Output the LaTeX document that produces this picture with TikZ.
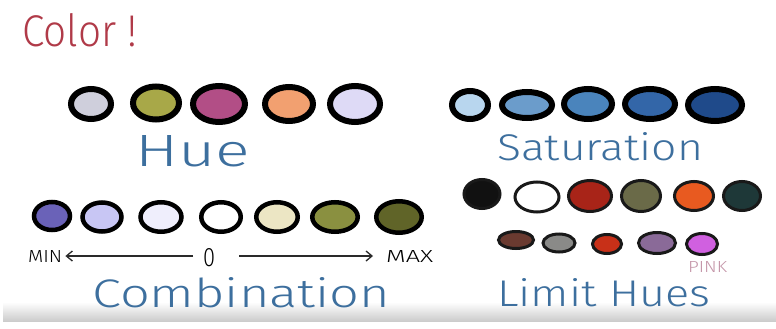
\documentclass[tikz,border=0pt]{standalone}
\usepackage{fontspec}
\setmainfont{Fira Sans Light}
\usepackage{graphicx}
\usetikzlibrary{shapes.geometric,arrows.meta}
\definecolor{ink}{HTML}{3D6F9E}
\definecolor{redink}{HTML}{B03A48}
\definecolor{pinkink}{HTML}{C495A8}
\definecolor{darkline}{HTML}{2A2A2A}
\begin{document}
\begin{tikzpicture}[x=1pt,y=-1pt,
  dotbig/.style={ellipse,draw=black,line width=6pt,inner sep=0pt},
  dotsat/.style={ellipse,draw=black,line width=6pt,inner sep=0pt},
  dotmid/.style={ellipse,draw=black,line width=4.5pt,inner sep=0pt},
  dotsmall/.style={ellipse,draw=black!90,line width=3pt,inner sep=0pt},
  label/.style={anchor=base west,inner sep=0pt,text=ink},
  small/.style={anchor=base west,inner sep=0pt,text=black},
  arr/.style={draw=darkline,line width=1.3pt,-{Straight Barb[length=6pt,width=10pt]}}]
\useasboundingbox (0,0) rectangle (776,329);
\fill[white] (0,0) rectangle (776,329);
\shade[top color=white,bottom color=black!20] (3,302) rectangle (776,321);

% title
\node[anchor=base west,inner sep=0pt,text=redink] (title) at (22,47) {\resizebox{115pt}{33pt}{Color !}};

% Hue row
\node[dotbig,fill={rgb,255:red,207;green,207;blue,220},minimum width=40pt,minimum height=30pt] (h1) at (91,104) {};
\node[dotbig,fill={rgb,255:red,168;green,168;blue,72},minimum width=46pt,minimum height=33pt] (h2) at (156,103) {};
\node[dotbig,fill={rgb,255:red,178;green,78;blue,134},minimum width=52pt,minimum height=36pt] (h3) at (219,104) {};
\node[dotbig,fill={rgb,255:red,242;green,160;blue,112},minimum width=48pt,minimum height=34pt] (h4) at (289,104) {};
\node[dotbig,fill={rgb,255:red,222;green,218;blue,246},minimum width=50pt,minimum height=36pt] (h5) at (355,104) {};
\node[label] (hue) at (135,166) {\resizebox{115pt}{31pt}{Hue}};

% Saturation row
\node[dotsat,fill={rgb,255:red,184;green,214;blue,238},minimum width=36pt,minimum height=28pt] (s1) at (470,105) {};
\node[dotsat,fill={rgb,255:red,107;green,156;blue,203},minimum width=50pt,minimum height=26pt] (s2) at (527,105) {};
\node[dotsat,fill={rgb,255:red,74;green,132;blue,188},minimum width=48pt,minimum height=30pt] (s3) at (588,104) {};
\node[dotsat,fill={rgb,255:red,51;green,102;blue,168},minimum width=50pt,minimum height=30pt] (s4) at (650,104) {};
\node[dotsat,fill={rgb,255:red,31;green,74;blue,138},minimum width=54pt,minimum height=32pt] (s5) at (715,105) {};
\node[label] (sat) at (497,160) {\resizebox{206pt}{28pt}{Saturation}};

% Combination row
\node[dotmid,fill={rgb,255:red,106;green,98;blue,184},minimum width=36pt,minimum height=28pt] (c1) at (52,216) {};
\node[dotmid,fill={rgb,255:red,200;green,198;blue,244},minimum width=39pt,minimum height=29pt] (c2) at (102,217) {};
\node[dotmid,fill={rgb,255:red,239;green,238;blue,252},minimum width=41pt,minimum height=29.5pt] (c3) at (161,217) {};
\node[dotmid,fill=white,minimum width=39.5pt,minimum height=29.5pt] (c4) at (221,217) {};
\node[dotmid,fill={rgb,255:red,236;green,230;blue,196},minimum width=41.5pt,minimum height=29.5pt] (c5) at (277,217) {};
\node[dotmid,fill={rgb,255:red,138;green,144;blue,64},minimum width=45.5pt,minimum height=29.5pt] (c6) at (335,217) {};
\node[dotmid,fill={rgb,255:red,96;green,100;blue,40},minimum width=45.5pt,minimum height=31.5pt] (c7) at (399,217) {};

\node[small] (min) at (28,262) {\resizebox{34pt}{12pt}{MIN}};
\node[small] (zero) at (203,266) {\resizebox{12pt}{18pt}{0}};
\node[small] (max) at (386,262) {\resizebox{47pt}{12pt}{MAX}};
\draw[arr,shorten <=10pt,shorten >=3pt] (zero.west |- min.east) -- (min.east);
\draw[arr,shorten <=24pt,shorten >=13pt] (zero.east |- max.west) -- (max.west);
\node[label] (comb) at (92,307) {\resizebox{298pt}{30pt}{Combination}};

% Limit hues
\node[dotsmall,fill={rgb,255:red,17;green,17;blue,17},minimum width=36pt,minimum height=29pt] (l1) at (482,194) {};
\node[dotsmall,fill=white,minimum width=44pt,minimum height=30pt] (l2) at (537,197) {};
\node[dotsmall,fill={rgb,255:red,168;green,36;blue,24},minimum width=43pt,minimum height=31pt] (l3) at (590,196) {};
\node[dotsmall,fill={rgb,255:red,106;green,106;blue,72},minimum width=39pt,minimum height=31pt] (l4) at (641,196) {};
\node[dotsmall,fill={rgb,255:red,232;green,90;blue,32},minimum width=39pt,minimum height=29pt] (l5) at (694,196) {};
\node[dotsmall,fill={rgb,255:red,30;green,56;blue,56},minimum width=37pt,minimum height=29pt] (l6) at (742,196) {};

\node[dotsmall,fill={rgb,255:red,106;green,58;blue,48},minimum width=35pt,minimum height=17pt] (m1) at (516,240) {};
\node[dotsmall,fill={rgb,255:red,138;green,138;blue,136},minimum width=32pt,minimum height=18pt] (m2) at (559,243) {};
\node[dotsmall,fill={rgb,255:red,200;green,48;blue,24},minimum width=29pt,minimum height=19pt] (m3) at (607,244) {};
\node[dotsmall,fill={rgb,255:red,138;green,106;blue,152},minimum width=37pt,minimum height=21pt] (m4) at (657,243) {};
\node[dotsmall,fill={rgb,255:red,208;green,96;blue,224},minimum width=31pt,minimum height=21pt] (m5) at (702,244) {};
\node[anchor=base west,inner sep=0pt,text=pinkink] (pink) at (688,272) {\resizebox{39pt}{11pt}{PINK}};
\node[label] (limit) at (497,306) {\resizebox{213pt}{28pt}{Limit Hues}};
\end{tikzpicture}
\end{document}
